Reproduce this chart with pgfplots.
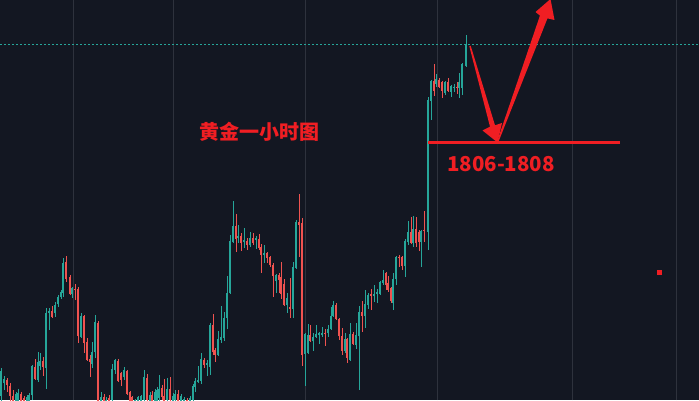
\documentclass[border=0pt]{standalone}
\usepackage{pgfplots}
\pgfplotsset{compat=1.18}
\usepackage{pgfplotstable}
\usepackage{fontspec}
\newfontfamily\cjk{Noto Sans CJK SC}

\definecolor{bg}{HTML}{131722}
\definecolor{upc}{HTML}{26A69A}
\definecolor{dnc}{HTML}{EF5350}
\definecolor{gridc}{HTML}{2E323D}
\definecolor{ann}{HTML}{F01E23}

% hourly gold candles: x = bar position, o h l c = open high low close
\pgfplotstableread{
x o h l c
1 1743.5 1750.5 1741.5 1749.75
4 1746.75 1748.5 1745 1747.75
7 1747.5 1748 1744.5 1746.25
10 1746 1746.75 1742 1743.5
13 1743.5 1745 1741.25 1742
16 1742.25 1744.5 1741.25 1744
18 1742.25 1745.25 1741.25 1744.25
21 1744 1744.5 1741.25 1742
24 1743 1743.5 1741.25 1741.5
27 1741.5 1743.75 1741.25 1743.25
29 1742 1744.25 1741.25 1743.75
32 1743.75 1751.25 1742.5 1751
35 1750.75 1752.75 1747.5 1747.75
38 1747.5 1754.5 1747 1752
40 1751 1754.25 1750 1752.25
43 1752.25 1753.25 1748.5 1750.75
46 1750.5 1765.5 1745.25 1764.25
49 1764.25 1765.5 1760 1764.75
52 1764.75 1766 1763 1763.25
55 1764.25 1767 1763.25 1766.25
58 1766.5 1768.75 1765.75 1768.25
61 1768.25 1770 1767.75 1769.5
63 1769.25 1778 1768.25 1776.75
66 1777 1778.5 1772 1772.75
70 1773.25 1773.75 1768.75 1769
72 1769 1770.75 1768 1770.5
75 1770.25 1771.5 1767.5 1770
78 1770.25 1770.75 1756.75 1758.5
81 1758.25 1764.25 1758 1763.5
84 1763.5 1763.75 1754.25 1756.75
87 1757 1758 1752.25 1752.5
90 1752.75 1753.75 1748.25 1752
92 1751.5 1757 1750.5 1754.5
95 1754.5 1763.75 1753 1762
98 1761.75 1762.25 1741.25 1741.5
101 1741.5 1744.5 1741.25 1743.25
104 1743.25 1744 1741.25 1741.5
106 1741.5 1743.25 1741.25 1742.5
109 1743 1743.75 1741.25 1741.5
112 1742.5 1751.5 1741.5 1750.25
115 1750 1752.75 1749 1752.5
118 1752.25 1752.75 1747 1747.25
121 1749.25 1749.5 1746 1747.5
124 1748.25 1750.75 1747.5 1750
127 1749.75 1750 1743.75 1744
130 1744.5 1744.75 1741.25 1742
132 1743.25 1743.5 1741.25 1741.5
135 1741.5 1742.75 1741.25 1742.5
138 1741.5 1743.5 1741.25 1743.25
141 1741.5 1743.75 1741.25 1743.5
144 1742.5 1750 1741.5 1748.25
147 1748 1749 1741.5 1742.5
150 1741.5 1744.5 1741.25 1743.75
152 1743.75 1744.75 1741.25 1741.5
155 1741.5 1745.25 1741.25 1744.5
157 1742 1745.75 1741.25 1745
159 1743 1748.75 1741.5 1745.25
162 1745.5 1746.25 1742.5 1743.25
164 1743.5 1747.75 1741.25 1741.5
167 1742.5 1748 1741.5 1745.25
170 1745.25 1748.25 1741.5 1742.5
173 1741.5 1744.25 1741.25 1743.5
175 1742.5 1745 1741.5 1744
178 1744 1745 1741.25 1742
181 1741.5 1744 1741.25 1743.5
184 1741.5 1743.25 1741.25 1742.75
187 1742.5 1743 1741.25 1741.5
190 1741.5 1743.5 1741.25 1743
193 1742.5 1746.5 1741.5 1746
195 1745.75 1748 1744.5 1747.25
198 1747 1751 1746.75 1747.5
201 1747.25 1754.25 1746.5 1752.75
204 1752.5 1753 1750.5 1751.25
207 1751.25 1752.5 1748.5 1751.75
210 1750.75 1761.75 1748.75 1761.25
213 1761.25 1764 1753.75 1754.5
215 1755 1755.5 1752 1753.75
218 1753.75 1759.75 1753.5 1757.75
221 1757.5 1766 1756.75 1758.25
224 1758 1764.5 1757.25 1763
227 1763 1773.5 1760.25 1769.25
230 1769.25 1783.75 1769 1782.25
233 1782 1792.25 1781.75 1786
236 1786 1789 1779.5 1782.75
238 1783 1786.25 1781.75 1783.5
241 1783.5 1784.25 1779.75 1781.75
244 1782 1785.5 1780.5 1782.5
247 1782.25 1783 1780 1781.25
250 1781.25 1784.5 1780.75 1783
253 1783 1784.25 1781.25 1781.75
256 1782.5 1783.5 1780.25 1783
259 1782.75 1784 1780 1780.5
261 1780.75 1781.5 1774.25 1778.75
264 1778.75 1781.25 1776.75 1779.25
267 1779.25 1779.5 1776.75 1778
270 1778.25 1778.5 1775.75 1776.25
273 1776.25 1776.75 1768.25 1773.5
276 1772.25 1774 1769.25 1773.75
279 1773.75 1774.25 1769.25 1772.5
281 1773.25 1777 1767.75 1769
284 1771.5 1772.75 1766 1766.25
287 1766.25 1769.25 1764.25 1768
290 1765.75 1773 1763 1765.25
293 1765.25 1777 1763 1775.75
296 1775.5 1787.5 1775.25 1787
299 1787 1794 1778.25 1786.25
302 1786.75 1788 1751 1753.75
305 1754 1759.25 1746 1759
308 1754.25 1761.5 1754 1758.75
310 1758.75 1761.25 1757 1757.25
313 1757.25 1759.25 1754.75 1758.25
316 1758.25 1761.25 1758 1759
319 1758.75 1759.5 1756.5 1759.25
322 1758.75 1760.75 1758.25 1759.25
325 1759.25 1760.25 1756 1759
328 1759.25 1761.25 1758.25 1760.25
331 1760.25 1765.75 1760 1763.5
333 1763.5 1767.25 1763.25 1766.25
336 1766.25 1766.75 1762.5 1762.75
339 1762.75 1763 1757.5 1758.5
342 1758.5 1760.5 1753.75 1754.75
345 1754.75 1759.25 1754.25 1757.75
347 1757.75 1758 1751.75 1753
350 1752.5 1761.75 1752.25 1759
353 1759 1759.5 1756.25 1756.5
356 1756.25 1761.75 1755.25 1758.75
359 1758.5 1766 1745 1764.5
362 1764.5 1767.25 1759.5 1763.5
365 1763.5 1770 1760.5 1766.5
368 1766.25 1769.25 1765.25 1768.75
371 1769 1770.25 1765 1768.5
374 1768.5 1771.25 1767 1769
377 1769 1770.25 1766.75 1769.5
380 1769 1772.25 1768.75 1772
383 1771.75 1775 1771.25 1772.5
386 1774.25 1774.5 1770 1771.25
388 1771.75 1773.5 1769.5 1770
391 1770.5 1770.75 1766.75 1767.25
393 1766.75 1774.25 1765 1772.75
396 1772.75 1778.5 1771.25 1778.25
399 1778.25 1778.75 1775.75 1778
402 1778.25 1778.5 1775 1776
405 1776 1782.75 1773.25 1782.25
408 1782 1787.25 1781.25 1784.5
411 1784.5 1788.25 1781.5 1781.75
413 1781.75 1788.5 1780.75 1785.25
416 1785.25 1788.25 1780.75 1781.75
419 1784.5 1785 1779.75 1782
421 1782 1785 1775.75 1784.75
424 1785 1789.75 1782 1784.75
428 1784.5 1818.25 1780 1817.5
431 1817.25 1822.5 1812.5 1822.25
434 1822.25 1826.5 1818.5 1819.75
436 1821.5 1824 1820.75 1822.75
439 1822.5 1823 1820.5 1820.75
442 1822 1822.25 1818 1819.75
445 1819.25 1822.25 1818.75 1822
448 1822 1823 1819.5 1819.75
451 1819.5 1821.25 1818.25 1821
454 1820.5 1821.5 1819.5 1820.75
457 1820.75 1822 1819 1820.5
459 1820.5 1824.25 1818 1822
462 1820.5 1826.75 1818.75 1826.5
466 1826 1833.75 1825.75 1831.5
}\candles

\begin{document}
\begin{tikzpicture}
\useasboundingbox (0,0) rectangle (699pt,400pt);
\begin{axis}[
  at={(0,0)}, anchor=south west,
  width=699pt, height=400pt, scale only axis,
  xmin=0, xmax=699, ymin=1742.5, ymax=1842.5,
  axis background/.style={fill=bg},
  axis line style={draw=none},
  xtick={73,173,305,437,572,676}, xticklabels={},
  ytick=\empty,
  major tick length=0pt,
  xmajorgrids, grid style={gridc, line width=1pt},
  clip=true,
]
% rising candles: wicks, then bodies
\addplot[draw=none, mark=none,
  restrict expr to domain={\thisrow{c}-\thisrow{o}}{0:1000},
  error bars/.cd, y dir=both, y explicit, error mark=none,
  error bar style={draw=upc, line width=1pt}]
  table[x=x, y=o, y error plus expr=\thisrow{h}-\thisrow{o},
        y error minus expr=\thisrow{o}-\thisrow{l}] {\candles};
\addplot[draw=none, mark=none,
  restrict expr to domain={\thisrow{c}-\thisrow{o}}{0:1000},
  error bars/.cd, y dir=plus, y explicit, error mark=none,
  error bar style={draw=upc, line width=2.3pt}]
  table[x=x, y=o, y error plus expr={max(\thisrow{c}-\thisrow{o},0.3)}] {\candles};
% falling candles: wicks, then bodies
\addplot[draw=none, mark=none,
  restrict expr to domain={\thisrow{c}-\thisrow{o}}{-1000:-0.001},
  error bars/.cd, y dir=both, y explicit, error mark=none,
  error bar style={draw=dnc, line width=1pt}]
  table[x=x, y=o, y error plus expr=\thisrow{h}-\thisrow{o},
        y error minus expr=\thisrow{o}-\thisrow{l}] {\candles};
\addplot[draw=none, mark=none,
  restrict expr to domain={\thisrow{c}-\thisrow{o}}{-1000:-0.001},
  error bars/.cd, y dir=minus, y explicit, error mark=none,
  error bar style={draw=dnc, line width=2.3pt}]
  table[x=x, y=o, y error minus expr={max(\thisrow{o}-\thisrow{c},0.3)}] {\candles};

% last price
\addplot[upc, line width=0.8pt, dash pattern=on 2pt off 2pt] coordinates {(0,1831.5) (699,1831.5)};
% support zone 1806-1808
\addplot[ann, line width=3pt] coordinates {(428,1807) (620,1807)};
\addplot[only marks, mark=square*, mark size=2pt, color=ann] coordinates {(659,1774.5)};

% projected path: pullback, then rally
\fill[ann] (axis cs:469.3,1830.95) -- (axis cs:490,1810.825) -- (axis cs:482.5,1809.875)
  -- (axis cs:497.5,1806.875) -- (axis cs:502,1811.75) -- (axis cs:495,1811.175)
  -- (axis cs:470.7,1831.05) -- cycle;
\fill[ann] (axis cs:497.3,1807.3) -- (axis cs:539.95,1838.6) -- (axis cs:535.5,1839.5)
  -- (axis cs:550.5,1842.75) -- (axis cs:554.5,1837.5) -- (axis cs:547.45,1837.9)
  -- (axis cs:498.7,1807.2) -- cycle;

\node[text=ann, font=\cjk\bfseries\fontsize{20}{24}\selectfont] at (axis cs:259,1809.5) {黄金一小时图};
\node[text=ann, font=\cjk\bfseries\fontsize{20.5}{24}\selectfont] at (axis cs:501,1801.5) {1806-1808};
\end{axis}
\end{tikzpicture}
\end{document}
